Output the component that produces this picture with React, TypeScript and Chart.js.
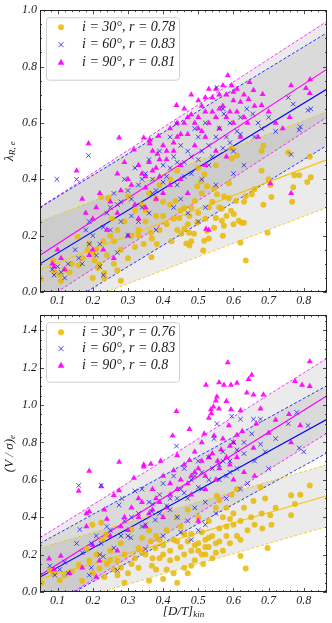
import React, { useEffect, useRef } from 'react';
import { Chart, registerables } from 'chart.js';
Chart.register(...registerables);

// ---------- axes ----------
const X_MIN = 0.05;
const X_MAX = 0.866;
const X_TICKS = [0.1, 0.2, 0.3, 0.4, 0.5, 0.6, 0.7, 0.8];
const X_TICK_LABELS = ['0.1', '0.2', '0.3', '0.4', '0.5', '0.6', '0.7', '0.8'];
const TOP_Y_MAX = 1.0;
const TOP_Y_TICKS = [0, 0.2, 0.4, 0.6, 0.8, 1.0];
const TOP_Y_TICK_LABELS = ['0.0', '0.2', '0.4', '0.6', '0.8', '1.0'];
const BOT_Y_MAX = 1.48;
const BOT_Y_TICKS = [0, 0.2, 0.4, 0.6, 0.8, 1.0, 1.2, 1.4];
const BOT_Y_TICK_LABELS = ['0.0', '0.2', '0.4', '0.6', '0.8', '1.0', '1.2', '1.4'];

// ---------- legend ----------
const INCLINATIONS = ['30°', '60°', '90°'];
const TOP_R = ['0.78', '0.83', '0.81'];
const BOT_R = ['0.76', '0.83', '0.8'];

// ---------- fits: y = a + b x, band = ± sigma ----------
const TOP_INTERCEPT = [0.056, 0.062, 0.09];
const TOP_SLOPE = [0.478, 0.76, 0.809];
const TOP_SIGMA = [0.17, 0.2, 0.17];
const BOT_INTERCEPT = [0.043, 0.028, 0.031];
const BOT_SLOPE = [0.545, 1.034, 1.176];
const BOT_SIGMA = [0.165, 0.18, 0.2];

// ---------- top panel data: [D/T]_kin, lambda_R,e ----------
const TOP_I30: number[][] = [
  [0.053,0.046],[0.087,0.112],[0.092,0.07],[0.106,0.06],[0.109,0.039],[0.134,0.07],[0.16,0.095],[0.157,0.196],[0.19,0.172],[0.199,0.137],
  [0.205,0.112],[0.219,0.098],[0.233,0.067],[0.233,0.049],[0.27,0.077],[0.224,0.337],[0.244,0.333],[0.17,0.12],[0.185,0.15],[0.21,0.15],
  [0.2,0.05],[0.215,0.085],[0.24,0.13],[0.25,0.2],[0.26,0.18],[0.27,0.22],[0.255,0.26],[0.28,0.15],[0.29,0.25],[0.3,0.34],
  [0.31,0.2],[0.32,0.29],[0.33,0.22],[0.34,0.31],[0.331,0.2],[0.345,0.17],[0.35,0.29],[0.365,0.21],[0.368,0.19],[0.367,0.123],
  [0.38,0.27],[0.382,0.17],[0.39,0.38],[0.4,0.32],[0.41,0.24],[0.424,0.18],[0.435,0.323],[0.446,0.263],[0.452,0.207],[0.46,0.224],
  [0.46,0.298],[0.466,0.172],[0.474,0.21],[0.475,0.165],[0.475,0.27],[0.488,0.207],[0.49,0.323],[0.497,0.246],[0.497,0.375],[0.508,0.393],
  [0.51,0.35],[0.514,0.147],[0.517,0.182],[0.517,0.418],[0.525,0.217],[0.525,0.375],[0.545,0.228],[0.545,0.368],[0.55,0.263],[0.553,0.347],
  [0.567,0.295],[0.567,0.253],[0.573,0.235],[0.573,0.34],[0.587,0.333],[0.587,0.386],[0.593,0.288],[0.595,0.51],[0.595,0.474],[0.601,0.277],
  [0.607,0.323],[0.61,0.484],[0.615,0.253],[0.62,0.175],[0.623,0.246],[0.63,0.32],[0.63,0.246],[0.635,0.112],[0.635,0.34],[0.652,0.347],
  [0.66,0.365],[0.68,0.43],[0.68,0.5],[0.685,0.52],[0.685,0.31],[0.697,0.21],[0.7,0.4],[0.705,0.38],[0.708,0.337],[0.756,0.495],
  [0.767,0.32],[0.77,0.372],[0.773,0.414],[0.787,0.414],[0.81,0.39],[0.817,0.48],[0.82,0.407],[0.42,0.4],[0.44,0.43],[0.5,0.44],
  [0.55,0.45],[0.48,0.3],[0.53,0.3],[0.38,0.33],[0.36,0.35],[0.3,0.12],[0.28,0.04],[0.14,0.1],[0.12,0.08],
  [0.43,0.26],[0.45,0.29],[0.47,0.24],[0.5,0.28],[0.52,0.26],[0.54,0.32],[0.56,0.3],[0.58,0.27],[0.42,0.31],[0.4,0.27],
  [0.48,0.18],[0.53,0.19],[0.57,0.2],[0.6,0.24],[0.44,0.22],[0.39,0.22],[0.35,0.25],[0.32,0.16],[0.26,0.1],[0.23,0.18]
];
const TOP_I60: number[][] = [
  [0.085,0.08],[0.09,0.06],[0.1,0.09],[0.11,0.07],[0.12,0.05],[0.13,0.1],[0.098,0.4],[0.154,0.4],[0.188,0.484],[0.15,0.15],
  [0.17,0.1],[0.18,0.22],[0.19,0.25],[0.2,0.2],[0.21,0.13],[0.22,0.17],[0.23,0.23],[0.24,0.28],[0.22,0.09],[0.23,0.06],
  [0.25,0.3],[0.26,0.35],[0.27,0.31],[0.28,0.25],[0.29,0.4],[0.3,0.36],[0.31,0.33],[0.32,0.44],[0.33,0.38],[0.34,0.3],
  [0.35,0.42],[0.36,0.47],[0.37,0.4],[0.38,0.36],[0.39,0.5],[0.4,0.45],[0.41,0.41],[0.42,0.55],[0.43,0.48],[0.438,0.597],
  [0.44,0.38],[0.45,0.52],[0.46,0.46],[0.47,0.5],[0.48,0.42],[0.49,0.58],[0.5,0.55],[0.5,0.47],[0.51,0.4],[0.52,0.6],
  [0.53,0.52],[0.54,0.48],[0.553,0.726],[0.56,0.58],[0.57,0.65],[0.573,0.632],[0.58,0.55],[0.59,0.6],[0.6,0.5],[0.61,0.57],
  [0.62,0.62],[0.638,0.65],[0.655,0.632],[0.66,0.55],[0.67,0.6],[0.68,0.58],[0.7,0.62],[0.72,0.57],[0.756,0.69],[0.77,0.667],
  [0.79,0.586],[0.787,0.575],[0.764,0.488],[0.812,0.645],[0.82,0.65],[0.52,0.3],[0.5,0.25],[0.47,0.28],[0.45,0.33],[0.43,0.3],
  [0.55,0.38],[0.6,0.42],[0.63,0.45],[0.27,0.14],[0.3,0.2],[0.33,0.25],[0.36,0.28],[0.38,0.22],
  [0.42,0.44],[0.44,0.46],[0.46,0.41],[0.48,0.48],[0.51,0.5],[0.53,0.45],[0.55,0.55],[0.57,0.51],[0.59,0.53],[0.62,0.56],
  [0.4,0.39],[0.37,0.35],[0.34,0.4],[0.31,0.27],[0.28,0.32],[0.25,0.22],[0.19,0.17],[0.16,0.12]
];
const TOP_I90: number[][] = [
  [0.085,0.1],[0.1,0.15],[0.11,0.12],[0.09,0.09],[0.12,0.08],[0.154,0.43],[0.188,0.527],[0.275,0.547],[0.345,0.547],[0.317,0.505],
  [0.362,0.54],[0.387,0.554],[0.362,0.527],[0.384,0.49],[0.17,0.33],[0.18,0.28],[0.2,0.26],[0.21,0.3],[0.22,0.35],[0.23,0.15],
  [0.2,0.15],[0.19,0.13],[0.25,0.32],[0.27,0.28],[0.28,0.36],[0.3,0.4],[0.31,0.38],[0.32,0.31],[0.33,0.45],[0.34,0.42],
  [0.35,0.37],[0.36,0.46],[0.37,0.5],[0.38,0.44],[0.39,0.41],[0.4,0.52],[0.41,0.47],[0.42,0.58],[0.43,0.5],[0.438,0.663],
  [0.44,0.55],[0.45,0.45],[0.46,0.6],[0.47,0.56],[0.48,0.63],[0.49,0.52],[0.5,0.62],[0.5,0.58],[0.51,0.66],[0.52,0.55],
  [0.53,0.6],[0.54,0.69],[0.55,0.62],[0.56,0.58],[0.57,0.733],[0.57,0.66],[0.584,0.768],[0.595,0.733],[0.58,0.7],[0.59,0.64],
  [0.6,0.68],[0.6,0.6],[0.61,0.72],[0.62,0.674],[0.63,0.62],[0.643,0.684],[0.646,0.744],[0.657,0.716],[0.66,0.66],[0.68,0.663],
  [0.683,0.702],[0.7,0.64],[0.764,0.733],[0.806,0.723],[0.818,0.754],[0.817,0.705],[0.764,0.35],[0.705,0.385],[0.522,0.224],[0.53,0.22],
  [0.47,0.35],[0.45,0.4],[0.42,0.38],[0.35,0.3],[0.38,0.33],[0.4,0.35],[0.52,0.45],[0.55,0.5],[0.58,0.48],[0.62,0.55],
  [0.44,0.6],[0.46,0.65],[0.5,0.68],[0.53,0.72],[0.48,0.7],[0.52,0.64],[0.56,0.7],[0.64,0.6],[0.67,0.55],[0.72,0.6],
  [0.74,0.58],[0.76,0.62],[0.27,0.42],[0.29,0.46],[0.24,0.22],[0.26,0.12],[0.3,0.2],[0.33,0.26],
  [0.49,0.6],[0.51,0.57],[0.54,0.64],[0.56,0.65],[0.58,0.62],[0.6,0.71],[0.61,0.64],[0.63,0.7],[0.55,0.72],[0.52,0.69],
  [0.47,0.62],[0.45,0.56],[0.43,0.53],[0.41,0.5],[0.39,0.47],[0.37,0.43],[0.35,0.41]
];

// ---------- bottom panel data: [D/T]_kin, (V/sigma)_e ----------
const BOT_I30: number[][] = [
  [0.055,0.05],[0.078,0.115],[0.09,0.1],[0.106,0.063],[0.12,0.09],[0.14,0.11],[0.16,0.146],[0.17,0.06],[0.182,0.23],[0.19,0.167],
  [0.199,0.36],[0.2,0.1],[0.21,0.2],[0.219,0.125],[0.224,0.37],[0.227,0.28],[0.233,0.08],[0.238,0.308],[0.24,0.15],[0.25,0.22],
  [0.26,0.12],[0.27,0.167],[0.27,0.089],[0.28,0.26],[0.29,0.2],[0.3,0.1],[0.31,0.334],[0.32,0.18],[0.33,0.235],[0.34,0.29],
  [0.35,0.2],[0.36,0.33],[0.365,0.272],[0.368,0.141],[0.378,0.235],[0.38,0.3],[0.39,0.18],[0.4,0.25],[0.41,0.33],[0.41,0.12],
  [0.42,0.22],[0.43,0.28],[0.44,0.18],[0.45,0.24],[0.45,0.35],[0.46,0.2],[0.46,0.13],[0.47,0.27],[0.47,0.1],[0.48,0.22],
  [0.48,0.31],[0.49,0.17],[0.5,0.26],[0.5,0.22],[0.51,0.32],[0.514,0.15],[0.52,0.2],[0.52,0.28],[0.53,0.24],[0.53,0.38],
  [0.54,0.3],[0.54,0.18],[0.55,0.26],[0.553,0.515],[0.56,0.49],[0.56,0.34],[0.57,0.22],[0.57,0.4],[0.58,0.3],[0.58,0.45],
  [0.59,0.26],[0.595,0.52],[0.6,0.36],[0.6,0.42],[0.61,0.55],[0.61,0.3],[0.62,0.193],[0.62,0.38],[0.63,0.45],[0.635,0.125],
  [0.64,0.33],[0.65,0.4],[0.657,0.486],[0.66,0.36],[0.677,0.56],[0.68,0.42],[0.682,0.34],[0.69,0.5],[0.697,0.235],[0.705,0.41],
  [0.708,0.36],[0.72,0.45],[0.764,0.517],[0.764,0.41],[0.775,0.47],[0.79,0.52],[0.817,0.57],[0.44,0.05],[0.4,0.07],[0.36,0.06],
  [0.33,0.13],[0.29,0.05],[0.44,0.4],[0.47,0.44],[0.5,0.4],[0.55,0.45],[0.43,0.1],[0.38,0.12],
  [0.42,0.17],[0.44,0.27],[0.46,0.31],[0.48,0.14],[0.49,0.25],[0.51,0.2],[0.52,0.24],[0.53,0.29],[0.55,0.21],[0.56,0.27],
  [0.58,0.35],[0.59,0.39],[0.62,0.28],[0.4,0.2],[0.39,0.28],[0.37,0.18],[0.34,0.21],[0.31,0.15],[0.28,0.13],[0.25,0.17]
];
const BOT_I60: number[][] = [
  [0.078,0.14],[0.092,0.09],[0.106,0.12],[0.12,0.16],[0.13,0.1],[0.154,0.26],[0.163,0.334],[0.16,0.57],[0.17,0.21],[0.19,0.09],
  [0.196,0.13],[0.196,0.26],[0.21,0.3],[0.224,0.26],[0.224,0.57],[0.23,0.19],[0.24,0.35],[0.26,0.235],[0.27,0.115],[0.275,0.465],
  [0.283,0.5],[0.29,0.38],[0.3,0.3],[0.308,0.29],[0.32,0.54],[0.33,0.42],[0.34,0.55],[0.35,0.36],[0.36,0.48],[0.368,0.43],
  [0.378,0.385],[0.39,0.52],[0.4,0.58],[0.41,0.46],[0.42,0.5],[0.43,0.62],[0.438,0.78],[0.44,0.4],[0.45,0.55],[0.46,0.66],
  [0.47,0.5],[0.48,0.6],[0.49,0.45],[0.5,0.7],[0.5,0.56],[0.51,0.64],[0.52,0.48],[0.53,0.72],[0.53,0.6],[0.545,0.82],
  [0.553,0.9],[0.56,0.68],[0.57,0.75],[0.58,0.62],[0.59,0.7],[0.595,0.94],[0.6,0.8],[0.61,0.66],[0.62,0.924],[0.63,0.74],
  [0.64,0.58],[0.652,0.846],[0.657,0.924],[0.66,0.7],[0.677,0.924],[0.677,0.79],[0.69,0.75],[0.7,0.66],[0.72,0.82],[0.756,0.9],
  [0.78,0.96],[0.787,0.77],[0.8,0.75],[0.812,0.89],[0.52,0.36],[0.5,0.33],[0.47,0.38],[0.55,0.42],[0.48,0.28],[0.45,0.32],
  [0.58,0.5],[0.62,0.55],[0.35,0.23],[0.4,0.3],
  [0.44,0.5],[0.46,0.53],[0.49,0.62],[0.51,0.55],[0.54,0.66],[0.56,0.6],[0.57,0.7],[0.59,0.64],[0.61,0.76],[0.63,0.8],
  [0.42,0.44],[0.39,0.42],[0.37,0.47],[0.34,0.35],[0.31,0.4],[0.28,0.3],[0.25,0.33],[0.22,0.2]
];
const BOT_I90: number[][] = [
  [0.076,0.178],[0.09,0.12],[0.109,0.193],[0.134,0.1],[0.16,0.54],[0.17,0.13],[0.182,0.35],[0.182,0.42],[0.19,0.43],[0.19,0.647],
  [0.2,0.25],[0.21,0.08],[0.219,0.167],[0.224,0.564],[0.233,0.44],[0.24,0.39],[0.25,0.3],[0.26,0.517],[0.27,0.22],[0.275,0.543],
  [0.275,0.695],[0.29,0.4],[0.3,0.33],[0.317,0.61],[0.33,0.5],[0.34,0.48],[0.345,0.67],[0.345,0.68],[0.36,0.42],[0.365,0.684],
  [0.37,0.55],[0.38,0.5],[0.393,0.7],[0.4,0.62],[0.41,0.45],[0.42,0.58],[0.427,0.835],[0.43,0.65],[0.438,0.966],[0.44,0.73],
  [0.45,0.6],[0.46,0.68],[0.475,0.87],[0.475,0.705],[0.48,0.62],[0.49,0.75],[0.5,0.66],[0.51,0.8],[0.517,0.846],[0.522,1.107],
  [0.53,0.93],[0.53,0.72],[0.536,0.976],[0.537,0.955],[0.543,0.99],[0.545,0.835],[0.55,1.023],[0.553,1.044],[0.555,0.7],[0.559,1.12],
  [0.559,0.98],[0.565,0.76],[0.573,1.107],[0.58,1.02],[0.584,1.227],[0.587,0.89],[0.59,0.68],[0.593,1.107],[0.593,0.976],[0.6,0.8],
  [0.61,1.117],[0.61,0.72],[0.62,0.97],[0.625,0.86],[0.638,1.065],[0.643,1.138],[0.652,1.16],[0.657,1.055],[0.657,0.77],[0.665,0.9],
  [0.677,0.98],[0.685,1.055],[0.7,0.85],[0.72,0.92],[0.758,0.95],[0.764,0.8],[0.775,1.127],[0.79,0.89],[0.795,1.107],[0.817,1.232],
  [0.817,1.1],[0.6,0.6],[0.55,0.6],[0.52,0.55],[0.48,0.52],[0.63,0.64],[0.66,0.62],[0.35,0.35],[0.4,0.4],[0.5,0.38],
  [0.47,0.58],[0.49,0.64],[0.51,0.7],[0.52,0.62],[0.54,0.74],[0.56,0.66],[0.57,0.82],[0.58,0.72],[0.59,0.78],[0.61,0.84],
  [0.44,0.55],[0.42,0.52],[0.39,0.48],[0.37,0.44],[0.33,0.4],[0.31,0.45],[0.28,0.35]
];

// ---------- styles ----------
const LINE_COLORS = ['#f5c400', '#0000ff', '#ff00ff'];
const BAND_COLOR = 'rgba(120,120,120,0.15)';
const TEXT_COLOR = '#1a1a1a';
const SERIF = '"Liberation Serif", "DejaVu Serif", serif';

type Part = { t: string; sub?: boolean };

function measureRich(ctx: CanvasRenderingContext2D, parts: Part[], size: number, subSize: number) {
  let w = 0;
  for (const p of parts) {
    ctx.font = `italic ${p.sub ? subSize : size}px ${SERIF}`;
    w += ctx.measureText(p.t).width;
  }
  return w;
}
function drawRich(ctx: CanvasRenderingContext2D, parts: Part[], x: number, y: number, size: number, subSize: number, subShift: number) {
  let cx = x;
  for (const p of parts) {
    ctx.font = `italic ${p.sub ? subSize : size}px ${SERIF}`;
    ctx.fillText(p.t, cx, p.sub ? y + subShift : y);
    cx += ctx.measureText(p.t).width;
  }
}

function drawMarker(ctx: CanvasRenderingContext2D, kind: number, x: number, y: number) {
  ctx.save();
  if (kind === 0) {
    ctx.fillStyle = 'rgba(236,190,10,0.9)';
    ctx.beginPath();
    ctx.arc(x, y, 3, 0, Math.PI * 2);
    ctx.fill();
  } else if (kind === 1) {
    ctx.strokeStyle = 'rgba(40,40,235,0.85)';
    ctx.lineWidth = 1;
    const r = 2.5;
    ctx.beginPath();
    ctx.moveTo(x - r, y - r); ctx.lineTo(x + r, y + r);
    ctx.moveTo(x - r, y + r); ctx.lineTo(x + r, y - r);
    ctx.stroke();
  } else {
    ctx.fillStyle = 'rgba(255,0,255,0.95)';
    ctx.beginPath();
    ctx.moveTo(x, y - 3.5); ctx.lineTo(x + 3.3, y + 2.5); ctx.lineTo(x - 3.3, y + 2.5);
    ctx.closePath();
    ctx.fill();
  }
  ctx.restore();
}

interface PanelCfg {
  height: number;
  padTop: number;
  xAxisH: number;
  yMax: number;
  yTicks: number[];
  yTickLabels: string[];
  series: number[][][];
  intercept: number[];
  slope: number[];
  sigma: number[];
  rVals: string[];
  yTitle: Part[];
  xTitle: Part[] | null;
  legendRowGap: number;
}

function buildChart(canvas: HTMLCanvasElement, cfg: PanelCfg) {
  const datasets: any[] = [];
  const xEnds = [X_MIN, X_MAX];
  for (let s = 0; s < 3; s++) {
    const a = cfg.intercept[s], b = cfg.slope[s], sg = cfg.sigma[s];
    const lowerIdx = datasets.length;
    datasets.push({
      type: 'line', data: xEnds.map(x => ({ x, y: a + b * x - sg })),
      borderColor: LINE_COLORS[s], borderWidth: 0.8, borderDash: [3, 2], pointRadius: 0, fill: false, order: 10 + s, clip: 0,
    });
    datasets.push({
      type: 'line', data: xEnds.map(x => ({ x, y: a + b * x + sg })),
      borderColor: LINE_COLORS[s], borderWidth: 0.8, borderDash: [3, 2], pointRadius: 0,
      fill: { target: lowerIdx }, backgroundColor: BAND_COLOR, order: 10 + s, clip: 0,
    });
    datasets.push({
      type: 'line', data: xEnds.map(x => ({ x, y: a + b * x })),
      borderColor: LINE_COLORS[s], borderWidth: 1.1, pointRadius: 0, fill: false, order: 10 + s, clip: 0,
    });
  }
  datasets.push({
    type: 'scatter', data: cfg.series[0].map(p => ({ x: p[0], y: p[1] })),
    pointStyle: 'circle', pointRadius: 3, backgroundColor: 'rgba(232,186,8,0.85)', borderWidth: 0, order: 3, clip: 0,
  });
  datasets.push({
    type: 'scatter', data: cfg.series[2].map(p => ({ x: p[0], y: p[1] })),
    pointStyle: 'triangle', pointRadius: 3.5, backgroundColor: 'rgba(255,0,255,0.92)', borderColor: 'rgba(255,0,255,0.92)', borderWidth: 0, order: 2, clip: 0,
  });
  datasets.push({
    type: 'scatter', data: cfg.series[1].map(p => ({ x: p[0], y: p[1] })),
    pointStyle: 'crossRot', pointRadius: 3.2, borderColor: 'rgba(40,40,235,0.85)', backgroundColor: 'rgba(40,40,235,0.85)', borderWidth: 1, order: 1, clip: 0,
  });

  const deco = {
    id: 'deco',
    afterDraw(chart: any) {
      const { ctx, chartArea: ar, scales } = chart;
      const xs = scales.x, ys = scales.y;
      ctx.save();
      ctx.strokeStyle = '#222';
      ctx.lineWidth = 1;
      ctx.strokeRect(Math.round(ar.left) + 0.5, Math.round(ar.top) + 0.5, Math.round(ar.right - ar.left) - 1, Math.round(ar.bottom - ar.top) - 1);
      ctx.lineWidth = 0.8;
      ctx.beginPath();
      for (let k = Math.ceil(X_MIN / 0.02 - 1e-9); k * 0.02 <= X_MAX + 1e-9; k++) {
        const v = k * 0.02;
        const major = X_TICKS.some(t => Math.abs(t - v) < 1e-6);
        const px = Math.round(xs.getPixelForValue(v)) + 0.5;
        const len = major ? 4 : 2;
        ctx.moveTo(px, ar.bottom); ctx.lineTo(px, ar.bottom - len);
        ctx.moveTo(px, ar.top); ctx.lineTo(px, ar.top + len);
      }
      for (let k = 0; k * 0.05 <= cfg.yMax + 1e-9; k++) {
        const v = k * 0.05;
        const major = cfg.yTicks.some(t => Math.abs(t - v) < 1e-6);
        const py = Math.round(ys.getPixelForValue(v)) + 0.5;
        const len = major ? 4 : 2;
        ctx.moveTo(ar.left, py); ctx.lineTo(ar.left + len, py);
        ctx.moveTo(ar.right, py); ctx.lineTo(ar.right - len, py);
      }
      ctx.stroke();

      // legend
      const bx = ar.left + 6, by = ar.top + 7, bw = 133, bh = 10 + cfg.legendRowGap * 3;
      ctx.fillStyle = 'rgba(255,255,255,0.85)';
      ctx.strokeStyle = '#d0d0d0';
      ctx.lineWidth = 1;
      ctx.beginPath();
      (ctx as any).roundRect(bx + 0.5, by + 0.5, bw, bh, 3);
      ctx.fill();
      ctx.stroke();
      ctx.textBaseline = 'middle';
      ctx.textAlign = 'left';
      for (let s = 0; s < 3; s++) {
        const ry = by + 10 + cfg.legendRowGap * s;
        drawMarker(ctx, s, bx + 15, ry);
        ctx.fillStyle = TEXT_COLOR;
        ctx.font = `italic 14px ${SERIF}`;
        ctx.fillText(`i = ${INCLINATIONS[s]}, r = ${cfg.rVals[s]}`, bx + 36, ry);
      }

      // y title (rotated)
      ctx.fillStyle = TEXT_COLOR;
      ctx.save();
      const cy = (ar.top + ar.bottom) / 2;
      ctx.translate(10, cy);
      ctx.rotate(-Math.PI / 2);
      ctx.textBaseline = 'middle';
      const w = measureRich(ctx, cfg.yTitle, 13, 9);
      drawRich(ctx, cfg.yTitle, -w / 2, 0, 13, 9, 3);
      ctx.restore();

      if (cfg.xTitle) {
        ctx.textBaseline = 'middle';
        const wx = measureRich(ctx, cfg.xTitle, 13, 9);
        const cx = (ar.left + ar.right) / 2;
        drawRich(ctx, cfg.xTitle, cx - wx / 2, ar.bottom + 20, 13, 9, 3);
      }
      ctx.restore();
    },
  };

  const tickFont = { family: SERIF, style: 'italic' as const, size: 12 };
  return new Chart(canvas, {
    type: 'scatter',
    data: { datasets },
    options: {
      animation: false,
      responsive: false,
      events: [],
      layout: { padding: { top: cfg.padTop, right: 3, left: 0, bottom: 0 } },
      plugins: {
        legend: { display: false },
        tooltip: { enabled: false },
        filler: { drawTime: 'beforeDatasetsDraw' } as any,
      },
      scales: {
        x: {
          type: 'linear', min: X_MIN, max: X_MAX,
          grid: { display: false, drawTicks: false }, border: { display: false },
          afterBuildTicks: (s: any) => { s.ticks = X_TICKS.map(v => ({ value: v })); },
          afterFit: (s: any) => { s.height = cfg.xAxisH; },
          ticks: { callback: (_v: any, i: number) => X_TICK_LABELS[i], padding: 2, font: tickFont, color: TEXT_COLOR, maxRotation: 0, autoSkip: false },
        },
        y: {
          type: 'linear', min: 0, max: cfg.yMax,
          grid: { display: false, drawTicks: false }, border: { display: false },
          afterBuildTicks: (s: any) => { s.ticks = cfg.yTicks.map(v => ({ value: v })); },
          afterFit: (s: any) => { s.width = 40; },
          ticks: { callback: (_v: any, i: number) => cfg.yTickLabels[i], padding: 3, font: tickFont, color: TEXT_COLOR, autoSkip: false },
        },
      },
    },
    plugins: [deco],
  } as any);
}

const TOP_CFG: PanelCfg = {
  height: 305, padTop: 7, xAxisH: 13, yMax: TOP_Y_MAX, yTicks: TOP_Y_TICKS, yTickLabels: TOP_Y_TICK_LABELS,
  series: [TOP_I30, TOP_I60, TOP_I90], intercept: TOP_INTERCEPT, slope: TOP_SLOPE, sigma: TOP_SIGMA, rVals: TOP_R,
  yTitle: [{ t: 'λ' }, { t: 'R, e', sub: true }], xTitle: null, legendRowGap: 17.5,
};
const BOT_CFG: PanelCfg = {
  height: 318, padTop: 3, xAxisH: 31, yMax: BOT_Y_MAX, yTicks: BOT_Y_TICKS, yTickLabels: BOT_Y_TICK_LABELS,
  series: [BOT_I30, BOT_I60, BOT_I90], intercept: BOT_INTERCEPT, slope: BOT_SLOPE, sigma: BOT_SIGMA, rVals: BOT_R,
  yTitle: [{ t: '(V / σ)' }, { t: 'e', sub: true }], xTitle: [{ t: '[D/T]' }, { t: 'kin', sub: true }], legendRowGap: 16.5,
};

export default function App() {
  const topRef = useRef<HTMLCanvasElement>(null);
  const botRef = useRef<HTMLCanvasElement>(null);
  useEffect(() => {
    const c1 = buildChart(topRef.current!, TOP_CFG);
    const c2 = buildChart(botRef.current!, BOT_CFG);
    return () => { c1.destroy(); c2.destroy(); };
  }, []);
  return (
    <div style={{ position: 'absolute', left: 0, top: 0, width: 332, height: 623, background: '#fff' }}>
      <canvas ref={topRef} width={332} height={TOP_CFG.height} style={{ display: 'block', width: 332, height: TOP_CFG.height }} />
      <canvas ref={botRef} width={332} height={BOT_CFG.height} style={{ display: 'block', width: 332, height: BOT_CFG.height }} />
    </div>
  );
}
